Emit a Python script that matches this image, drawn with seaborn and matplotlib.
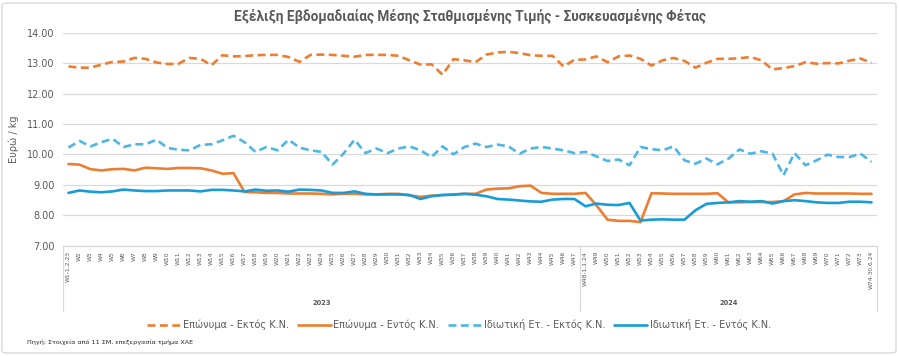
import matplotlib
matplotlib.use("Agg")
import matplotlib.pyplot as plt
import seaborn as sns
import numpy as np
import pandas as pd
from matplotlib.patches import FancyBboxPatch
from matplotlib.lines import Line2D
import matplotlib.transforms as mtrans

title = "Εξέλιξη Εβδομαδιαίας Μέσης Σταθμισμένης Τιμής - Συσκευασμένης Φέτας"
ylabel = "Ευρώ / kg"
source = "Πηγή: Στοιχεία από 11 ΣΜ, επεξεργασία τμήμα ΧΑΕ"

week_labels = [
    "W1-1.2.23", "W2", "W3", "W4", "W5", "W6", "W7", "W8", "W9", "W10",
    "W11", "W12", "W13", "W14", "W15", "W16", "W17", "W18", "W19", "W20",
    "W21", "W22", "W23", "W24", "W25", "W26", "W27", "W28", "W29", "W30",
    "W31", "W32", "W33", "W34", "W35", "W36", "W37", "W38", "W39", "W40",
    "W41", "W42", "W43", "W44", "W45", "W46", "W47", "W48-1.1.24", "W49", "W50",
    "W51", "W52", "W53", "W54", "W55", "W56", "W57", "W58", "W59", "W60",
    "W61", "W62", "W63", "W64", "W65", "W66", "W67", "W68", "W69", "W70",
    "W71", "W72", "W73", "W74-30.6.24",
]
years = ["2023", "2024"]
year_sizes = [47, 27]

series_names = [
    "Επώνυμα - Εκτός Κ.Ν.",
    "Επώνυμα - Εντός Κ.Ν.",
    "Ιδιωτική Ετ. - Εκτός Κ.Ν.",
    "Ιδιωτική Ετ. - Εντός Κ.Ν.",
]

brand_out = [
    12.89, 12.85, 12.85, 12.95, 13.04, 13.05, 13.17, 13.14, 13.02, 12.97,
    12.98, 13.17, 13.14, 12.93, 13.26, 13.22, 13.23, 13.26, 13.27,
    13.27, 13.20, 13.04, 13.27, 13.28, 13.27, 13.24, 13.21, 13.27, 13.27,
    13.27, 13.24, 13.09, 12.95, 12.96, 12.62, 13.13, 13.09,
    13.03, 13.28, 13.35, 13.37, 13.33, 13.26, 13.24, 13.24, 12.89, 13.11,
    13.12, 13.22, 13.03, 13.22, 13.25, 13.14, 12.92, 13.09, 13.17,
    13.07, 12.85, 13.01, 13.14, 13.14, 13.16, 13.20, 13.09, 12.79, 12.84,
    12.90, 13.03, 12.98, 13.00, 12.99, 13.08, 13.15, 13.01,
]
brand_in = [
    9.68, 9.66, 9.51, 9.47, 9.51, 9.52, 9.47, 9.56, 9.54, 9.52,
    9.55, 9.55, 9.54, 9.47, 9.36, 9.38, 8.76, 8.75, 8.73,
    8.73, 8.71, 8.71, 8.71, 8.70, 8.68, 8.70, 8.70, 8.68, 8.68,
    8.70, 8.70, 8.65, 8.60, 8.64, 8.66, 8.68, 8.70,
    8.70, 8.84, 8.87, 8.88, 8.95, 8.97, 8.73, 8.70, 8.70, 8.70,
    8.73, 8.32, 7.85, 7.81, 7.81, 7.77, 8.72, 8.71, 8.70,
    8.70, 8.70, 8.70, 8.72, 8.42, 8.42, 8.43, 8.43, 8.43, 8.46,
    8.68, 8.73, 8.71, 8.71, 8.71, 8.71, 8.70, 8.70,
]
private_out = [
    10.22, 10.44, 10.26, 10.40, 10.51, 10.24, 10.33, 10.33, 10.48, 10.21,
    10.15, 10.13, 10.31, 10.33, 10.46, 10.61, 10.40, 10.08, 10.24,
    10.13, 10.48, 10.22, 10.13, 10.08, 9.66, 10.02, 10.48, 10.04, 10.19,
    10.04, 10.19, 10.26, 10.13, 9.91, 10.26, 10.00, 10.24,
    10.35, 10.24, 10.32, 10.26, 10.02, 10.19, 10.24, 10.19, 10.13, 10.04,
    10.08, 9.93, 9.78, 9.83, 9.64, 10.24, 10.17, 10.13, 10.26,
    9.80, 9.69, 9.86, 9.67, 9.86, 10.16, 10.02, 10.10, 10.02, 9.31,
    10.04, 9.64, 9.80, 9.99, 9.91, 9.91, 10.02, 9.75,
]
private_in = [
    8.73, 8.81, 8.77, 8.75, 8.78, 8.84, 8.81, 8.79, 8.79, 8.81,
    8.81, 8.81, 8.78, 8.83, 8.83, 8.81, 8.78, 8.84, 8.80,
    8.81, 8.77, 8.84, 8.83, 8.81, 8.73, 8.73, 8.78, 8.70, 8.68,
    8.68, 8.68, 8.66, 8.53, 8.62, 8.66, 8.67, 8.70,
    8.67, 8.62, 8.53, 8.51, 8.48, 8.45, 8.44, 8.51, 8.53, 8.53,
    8.29, 8.38, 8.34, 8.33, 8.40, 7.82, 7.85, 7.86, 7.85,
    7.85, 8.16, 8.37, 8.40, 8.42, 8.46, 8.44, 8.46, 8.38, 8.46,
    8.49, 8.46, 8.42, 8.40, 8.40, 8.44, 8.44, 8.42,
]

y_ticks = [7.0, 8.0, 9.0, 10.0, 11.0, 12.0, 13.0, 14.0]

ORANGE = "#ED7D31"
BLUE_L = "#4DB6E6"
BLUE = "#189CD8"
GRAY = "#595959"
GRID = "#D9D9D9"

sns.set_theme(style="white")
plt.rcParams["font.family"] = ["DejaVu Sans"]

W, H = 899, 356
fig = plt.figure(figsize=(W / 100, H / 100), dpi=100)
ax_left, ax_right, ax_top, ax_bot = 63, 877, 32.7, 245.5
ax = fig.add_axes([ax_left / W, 1 - ax_bot / H, (ax_right - ax_left) / W, (ax_bot - ax_top) / H])

x = np.arange(len(week_labels))
styles = [
    (brand_out, ORANGE, (0, (3, 1.7))),
    (brand_in, ORANGE, "-"),
    (private_out, BLUE_L, (0, (3, 1.7))),
    (private_in, BLUE, "-"),
]
handles = []
for (vals, col, ls), name in zip(styles, series_names):
    df = pd.DataFrame({"x": x, "y": vals})
    sns.lineplot(data=df, x="x", y="y", ax=ax, color=col, linestyle=ls, linewidth=1.9)
    handles.append(Line2D([0], [0], color=col, linestyle=ls, linewidth=1.9, label=name))

ax.set_xlim(-0.5, len(week_labels) - 0.5)
ax.set_ylim(7, 14)
ax.set_yticks(y_ticks)
ax.set_yticklabels([f"{v:.2f}" for v in y_ticks], fontsize=7, color=GRAY)
ax.set_xticks(x)
ax.set_xticklabels(week_labels, rotation=90, fontsize=4.3, color=GRAY, va="top")
ax.tick_params(axis="x", length=0, pad=4)
ax.tick_params(axis="y", length=0, pad=6)
ax.set_xlabel("")
ax.set_ylabel(ylabel, fontsize=7, color=GRAY, labelpad=6)
ax.grid(axis="y", color=GRID, linewidth=0.9)
ax.grid(axis="x", visible=False)
for s in ["top", "right", "left"]:
    ax.spines[s].set_visible(False)
ax.spines["bottom"].set_color(GRID)
ax.spines["bottom"].set_linewidth(0.9)
ax.set_axisbelow(True)

# category group separators and year labels
trans = mtrans.blended_transform_factory(ax.transData, fig.transFigure)
bounds = np.cumsum([0] + year_sizes) - 0.5
y_bottom_sep = 1 - 311 / H
y_axis = 1 - ax_bot / H
for b in bounds:
    ax.add_line(Line2D([b, b], [y_axis, y_bottom_sep], transform=trans, color=GRID,
                       linewidth=0.9, clip_on=False))
for i, yr in enumerate(years):
    cx = (bounds[i] + bounds[i + 1]) / 2
    fig.text(cx, 1 - 303 / H, yr, transform=trans, ha="center", va="center",
             fontsize=4.8, fontweight="bold", color=GRAY)

fig.text(470 / W, 1 - 17 / H, title, ha="center", va="center", fontsize=9.8,
         fontweight="bold", color=GRAY, family=["Roboto", "DejaVu Sans"])

leg = fig.legend(handles=handles, loc="center", bbox_to_anchor=(459 / W, 1 - 325 / H),
                 ncol=4, frameon=False, fontsize=7, handlelength=3.4, handletextpad=0.3,
                 columnspacing=0.9, labelcolor=GRAY)

fig.text(27 / W, 1 - 342 / H, source, ha="left", va="center", fontsize=4.6, color="#262626")

border = FancyBboxPatch((2 / W, 3 / H), (W - 5) / W, (H - 6) / H,
                        boxstyle="round,pad=0,rounding_size=0.006",
                        transform=fig.transFigure, facecolor="none", edgecolor=GRID,
                        linewidth=1.0)
fig.patches.append(border)

fig.savefig("out.png", dpi=100)
